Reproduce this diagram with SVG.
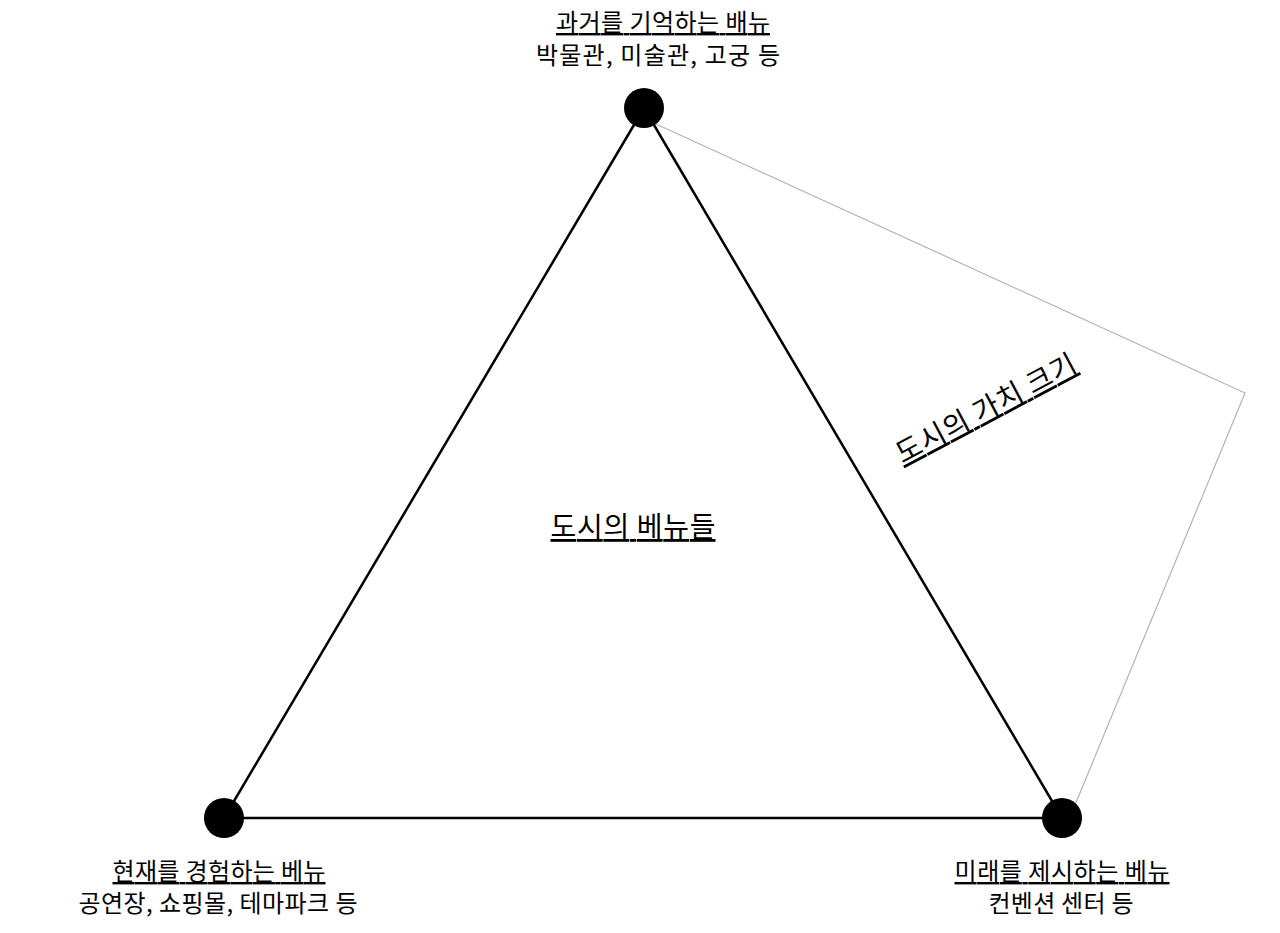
<svg xmlns="http://www.w3.org/2000/svg" width="1280" height="933" viewBox="0 0 1280 933">
<style>
text{font-family:"Noto Sans CJK KR","Noto Sans",sans-serif;fill:#000;text-anchor:middle}
.lbl{font-size:24px}
.u{text-decoration:underline}
.edge{stroke:#000;stroke-width:2.5;fill:none}
.guide{stroke:#b3b3b3;stroke-width:1.2;fill:none}
</style>
<rect width="1280" height="933" fill="#fff"/>
<g id="connectors">
<line class="edge" x1="644" y1="108" x2="224" y2="818"/>
<line class="edge" x1="644" y1="108" x2="1062" y2="818"/>
<line class="edge" x1="224" y1="818" x2="1062" y2="818"/>
<polyline class="guide" points="656,124 1245,393 1075,805"/>
</g>
<g id="node-past">
<circle cx="644" cy="108" r="20"/>
<text class="lbl u" x="663" y="31" textLength="214" lengthAdjust="spacing">과거를 기억하는 배뉴</text>
<text class="lbl" x="658" y="64" textLength="244" lengthAdjust="spacing">박물관, 미술관, 고궁 등</text>
</g>
<g id="node-present">
<circle cx="224" cy="818" r="20"/>
<text class="lbl u" x="219" y="880" textLength="213" lengthAdjust="spacing">현재를 경험하는 베뉴</text>
<text class="lbl" x="218" y="912" textLength="279" lengthAdjust="spacing">공연장, 쇼핑몰, 테마파크 등</text>
</g>
<g id="node-future">
<circle cx="1062" cy="818" r="20"/>
<text class="lbl u" x="1062" y="880" textLength="215" lengthAdjust="spacing">미래를 제시하는 베뉴</text>
<text class="lbl" x="1061" y="912" textLength="145" lengthAdjust="spacing">컨벤션 센터 등</text>
</g>
<g id="center-label">
<text class="u" x="633" y="537" style="font-size:28px" textLength="165" lengthAdjust="spacing">도시의 베뉴들</text>
</g>
<g id="value-label">
<text class="u" transform="translate(991,418) rotate(-28)" x="0" y="-1" style="font-size:28px" textLength="200" lengthAdjust="spacing">도시의 가치 크기</text>
</g>
</svg>
